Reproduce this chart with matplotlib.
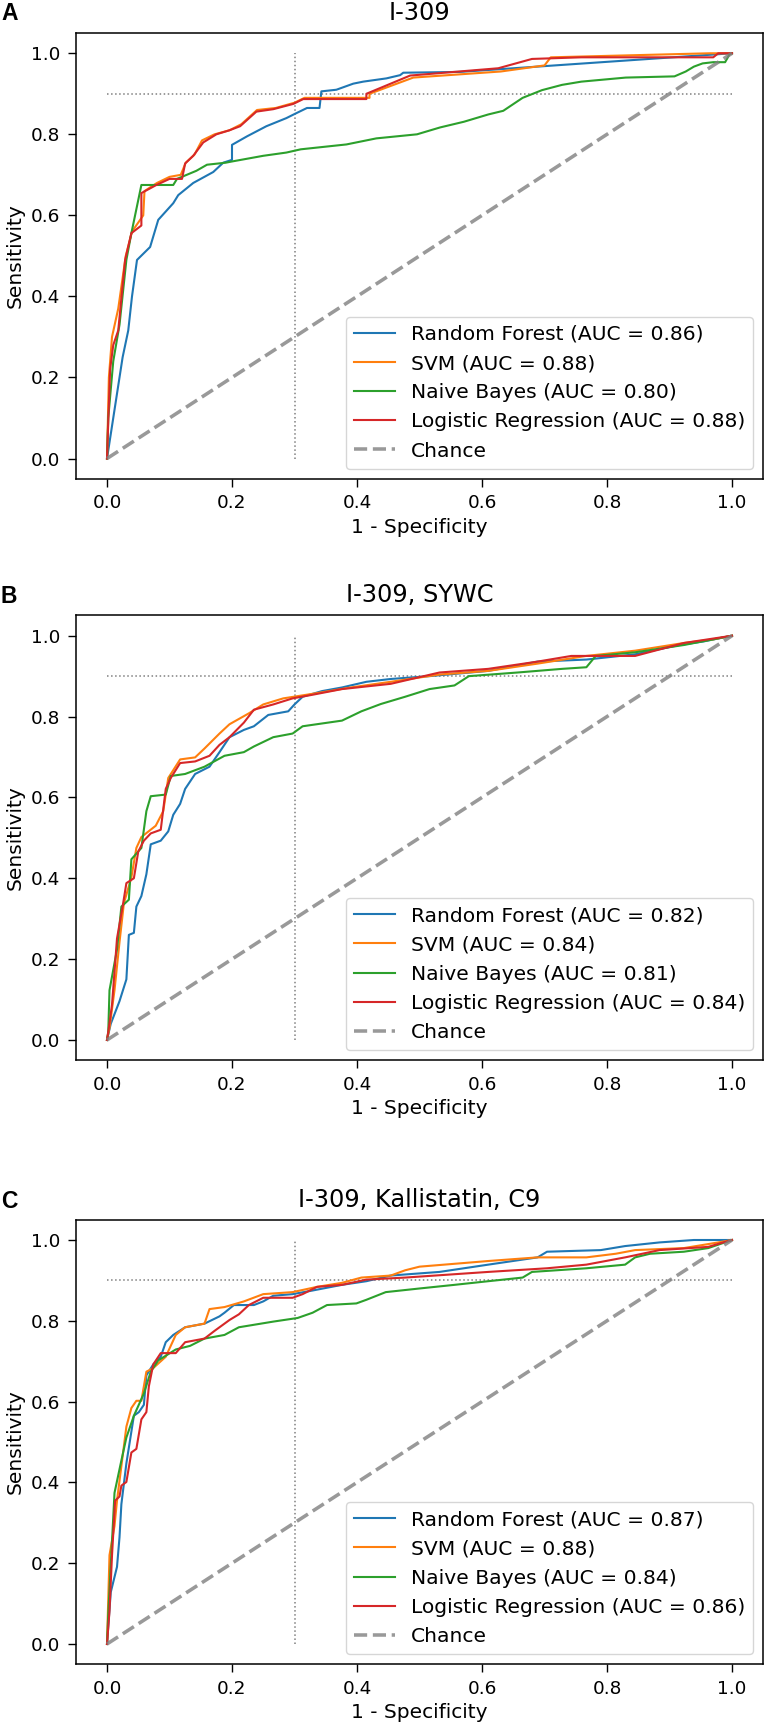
import matplotlib
matplotlib.use("Agg")
import matplotlib.pyplot as plt

# ---------------- data ----------------
panel_letters = ["A", "B", "C"]
panel_titles = ["I-309", "I-309, SYWC", "I-309, Kallistatin, C9"]
model_names = ["Random Forest", "SVM", "Naive Bayes", "Logistic Regression"]
auc_A = [0.86, 0.88, 0.80, 0.88]
auc_B = [0.82, 0.84, 0.81, 0.84]
auc_C = [0.87, 0.88, 0.84, 0.86]

# Panel A
rf_A_x = [0, 0.01, 0.025, 0.034, 0.04, 0.048, 0.069, 0.082, 0.106, 0.114, 0.138, 0.17, 0.186, 0.2, 0.2, 0.224, 0.255,
          0.287, 0.30, 0.32, 0.34, 0.343, 0.367, 0.394, 0.41, 0.447, 0.469, 0.474, 0.565, 1.0]
rf_A_y = [0, 0.1, 0.25, 0.316, 0.40, 0.49, 0.522, 0.589, 0.63, 0.65, 0.68, 0.707, 0.73, 0.737, 0.774, 0.795, 0.82,
          0.84, 0.85, 0.865, 0.865, 0.906, 0.91, 0.925, 0.93, 0.938, 0.946, 0.952, 0.954, 1.0]
svm_A_x = [0, 0.003, 0.008, 0.018, 0.03, 0.04, 0.058, 0.06, 0.08, 0.10, 0.118, 0.126, 0.14, 0.152, 0.172, 0.196,
           0.215, 0.24, 0.27, 0.30, 0.316, 0.42, 0.42, 0.49, 0.63, 0.70, 0.71, 0.965, 1.0]
svm_A_y = [0, 0.2, 0.3, 0.37, 0.5, 0.56, 0.6, 0.66, 0.68, 0.695, 0.70, 0.73, 0.75, 0.785, 0.80, 0.81,
           0.825, 0.86, 0.865, 0.878, 0.89, 0.89, 0.9, 0.94, 0.955, 0.97, 0.99, 1.0, 1.0]
nb_A_x = [0, 0.002, 0.01, 0.02, 0.031, 0.039, 0.053, 0.055, 0.106, 0.112, 0.143, 0.16, 0.19, 0.2, 0.25, 0.287, 0.31,
          0.383, 0.431, 0.496, 0.533, 0.571, 0.61, 0.634, 0.665, 0.696, 0.728, 0.759, 0.83, 0.908, 0.926, 0.939,
          0.953, 0.97, 0.989, 0.997, 1.0]
nb_A_y = [0, 0.1, 0.24, 0.33, 0.49, 0.556, 0.66, 0.675, 0.675, 0.69, 0.71, 0.725, 0.73, 0.733, 0.747, 0.755, 0.763,
          0.775, 0.79, 0.80, 0.817, 0.831, 0.849, 0.858, 0.89, 0.909, 0.922, 0.93, 0.94, 0.943, 0.955, 0.967,
          0.975, 0.978, 0.978, 1.0, 1.0]
lr_A_x = [0, 0.002, 0.005, 0.01, 0.018, 0.029, 0.039, 0.055, 0.055, 0.079, 0.10, 0.12, 0.125, 0.138, 0.154, 0.175,
          0.196, 0.213, 0.239, 0.266, 0.298, 0.314, 0.415, 0.415, 0.485, 0.626, 0.68, 0.759, 0.97, 0.978, 1.0]
lr_A_y = [0, 0.09, 0.22, 0.28, 0.316, 0.49, 0.556, 0.575, 0.655, 0.675, 0.69, 0.69, 0.728, 0.747, 0.78, 0.80,
          0.81, 0.82, 0.856, 0.862, 0.875, 0.887, 0.887, 0.9, 0.945, 0.963, 0.986, 0.99, 0.99, 1.0, 1.0]

# Panel B
rf_B_x = [0, 0.006, 0.02, 0.031, 0.035, 0.043, 0.047, 0.055, 0.063, 0.07, 0.086, 0.098, 0.106, 0.117, 0.125, 0.141,
          0.164, 0.18, 0.196, 0.219, 0.235, 0.258, 0.29, 0.30, 0.313, 0.344, 0.376, 0.415, 0.454, 0.516, 0.61,
          0.689, 0.767, 0.845, 0.916, 0.955, 1.0]
rf_B_y = [0, 0.04, 0.096, 0.15, 0.26, 0.265, 0.33, 0.356, 0.41, 0.484, 0.493, 0.516, 0.557, 0.584, 0.621, 0.658,
          0.676, 0.712, 0.749, 0.767, 0.776, 0.804, 0.813, 0.83, 0.849, 0.863, 0.872, 0.886, 0.893, 0.9, 0.913,
          0.936, 0.941, 0.954, 0.977, 0.986, 1.0]
svm_B_x = [0, 0.004, 0.012, 0.02, 0.027, 0.039, 0.047, 0.055, 0.078, 0.09, 0.098, 0.117, 0.141, 0.156, 0.18, 0.196,
           0.227, 0.25, 0.282, 0.336, 0.39, 0.454, 0.532, 0.61, 0.689, 0.767, 0.845, 0.923, 0.97, 1.0]
svm_B_y = [0, 0.03, 0.123, 0.242, 0.338, 0.402, 0.475, 0.502, 0.53, 0.566, 0.648, 0.694, 0.699, 0.721, 0.758, 0.781,
           0.808, 0.83, 0.845, 0.858, 0.872, 0.886, 0.904, 0.913, 0.931, 0.95, 0.963, 0.982, 0.991, 1.0]
nb_B_x = [0, 0.002, 0.004, 0.016, 0.023, 0.035, 0.039, 0.055, 0.063, 0.07, 0.094, 0.102, 0.125, 0.156, 0.188, 0.219,
          0.235, 0.266, 0.297, 0.313, 0.376, 0.407, 0.438, 0.477, 0.516, 0.556, 0.579, 0.657, 0.728, 0.767, 0.782,
          0.845, 0.923, 1.0]
nb_B_y = [0, 0.02, 0.123, 0.224, 0.33, 0.347, 0.447, 0.475, 0.566, 0.603, 0.607, 0.653, 0.658, 0.676, 0.703, 0.712,
          0.726, 0.749, 0.758, 0.776, 0.79, 0.813, 0.831, 0.849, 0.868, 0.877, 0.9, 0.909, 0.918, 0.922, 0.95,
          0.959, 0.977, 1.0]
lr_B_x = [0, 0.002, 0.008, 0.016, 0.025, 0.031, 0.043, 0.05, 0.059, 0.07, 0.086, 0.094, 0.102, 0.117, 0.141, 0.164,
          0.18, 0.196, 0.219, 0.235, 0.266, 0.297, 0.329, 0.376, 0.454, 0.532, 0.61, 0.689, 0.743, 0.845, 0.923, 1.0]
lr_B_y = [0, 0.02, 0.087, 0.251, 0.33, 0.388, 0.40, 0.466, 0.493, 0.511, 0.52, 0.621, 0.648, 0.685, 0.689, 0.703,
          0.73, 0.749, 0.785, 0.817, 0.83, 0.845, 0.854, 0.868, 0.881, 0.909, 0.918, 0.936, 0.95, 0.95, 0.982, 1.0]

# Panel C
rf_C_x = [0, 0.006, 0.016, 0.02, 0.023, 0.031, 0.043, 0.051, 0.059, 0.063, 0.074, 0.086, 0.094, 0.106, 0.125, 0.156,
          0.18, 0.188, 0.203, 0.235, 0.25, 0.266, 0.297, 0.329, 0.376, 0.415, 0.454, 0.532, 0.61, 0.689, 0.704,
          0.79, 0.829, 0.884, 0.939, 1.0]
rf_C_y = [0, 0.128, 0.191, 0.264, 0.346, 0.447, 0.565, 0.574, 0.592, 0.665, 0.692, 0.711, 0.747, 0.765, 0.784, 0.793,
          0.811, 0.82, 0.839, 0.839, 0.848, 0.862, 0.866, 0.875, 0.889, 0.898, 0.912, 0.921, 0.939, 0.957, 0.971,
          0.975, 0.985, 0.994, 1.0, 1.0]
svm_C_x = [0, 0.004, 0.012, 0.016, 0.031, 0.039, 0.047, 0.055, 0.063, 0.074, 0.094, 0.11, 0.125, 0.156, 0.164, 0.188,
           0.219, 0.25, 0.297, 0.336, 0.376, 0.407, 0.454, 0.477, 0.5, 0.571, 0.61, 0.689, 0.767, 0.814, 0.845,
           0.923, 0.978, 1.0]
svm_C_y = [0, 0.22, 0.292, 0.355, 0.538, 0.584, 0.602, 0.602, 0.674, 0.683, 0.711, 0.765, 0.784, 0.793, 0.829, 0.834,
           0.848, 0.866, 0.871, 0.884, 0.894, 0.907, 0.912, 0.925, 0.934, 0.943, 0.948, 0.957, 0.957, 0.966, 0.975,
           0.98, 0.994, 1.0]
nb_C_x = [0, 0.002, 0.012, 0.022, 0.031, 0.043, 0.059, 0.07, 0.082, 0.11, 0.133, 0.156, 0.188, 0.211, 0.266, 0.305,
          0.329, 0.352, 0.399, 0.415, 0.446, 0.5, 0.556, 0.61, 0.665, 0.68, 0.767, 0.829, 0.845, 0.869, 0.923,
          0.962, 1.0]
nb_C_y = [0, 0.073, 0.374, 0.447, 0.511, 0.565, 0.62, 0.674, 0.702, 0.729, 0.738, 0.756, 0.765, 0.784, 0.798, 0.807,
          0.82, 0.839, 0.843, 0.852, 0.871, 0.88, 0.889, 0.898, 0.907, 0.921, 0.93, 0.939, 0.957, 0.966, 0.971,
          0.98, 1.0]
lr_C_x = [0, 0.004, 0.008, 0.013, 0.02, 0.023, 0.031, 0.039, 0.047, 0.055, 0.063, 0.067, 0.074, 0.086, 0.11, 0.125,
          0.156, 0.172, 0.196, 0.211, 0.227, 0.25, 0.297, 0.313, 0.336, 0.376, 0.415, 0.477, 0.61, 0.704, 0.767,
          0.829, 0.884, 0.962, 0.986, 1.0]
lr_C_y = [0, 0.082, 0.219, 0.355, 0.365, 0.392, 0.401, 0.474, 0.483, 0.556, 0.574, 0.638, 0.692, 0.72, 0.72, 0.747,
          0.756, 0.775, 0.802, 0.816, 0.839, 0.857, 0.857, 0.866, 0.884, 0.889, 0.902, 0.907, 0.921, 0.93, 0.939,
          0.957, 0.975, 0.983, 0.994, 1.0]

curves = [
    [(rf_A_x, rf_A_y), (svm_A_x, svm_A_y), (nb_A_x, nb_A_y), (lr_A_x, lr_A_y)],
    [(rf_B_x, rf_B_y), (svm_B_x, svm_B_y), (nb_B_x, nb_B_y), (lr_B_x, lr_B_y)],
    [(rf_C_x, rf_C_y), (svm_C_x, svm_C_y), (nb_C_x, nb_C_y), (lr_C_x, lr_C_y)],
]
aucs = [auc_A, auc_B, auc_C]
colors = ["#1f77b4", "#ff7f0e", "#2ca02c", "#d62728"]

# ---------------- layout ----------------
W, H = 766, 1728
plt.rcParams["font.family"] = ["DejaVu Sans"]
fig = plt.figure(figsize=(W / 100, H / 100), dpi=100)

# axes boxes in pixels: (left, top, right, bottom)
boxes = [(75.75, 33.0, 763.25, 478.8), (75.75, 615.5, 763.25, 1060.2), (75.75, 1219.8, 763.25, 1664.2)]
letter_base = [20, 603, 1208]

for i in range(3):
    l, t, r, b = boxes[i]
    ax = fig.add_axes([l / W, 1 - b / H, (r - l) / W, (b - t) / H])
    ax.plot([0.3, 0.3], [0, 1], linestyle=":", color="gray", lw=1.1)
    ax.plot([0, 1], [0.9, 0.9], linestyle=":", color="gray", lw=1.1)
    for k in range(4):
        xs, ys = curves[i][k]
        ax.plot(xs, ys, color=colors[k], lw=1.5,
                label=f"{model_names[k]} (AUC = {aucs[i][k]:.2f})")
    ax.plot([0, 1], [0, 1], linestyle="--", lw=2.56, color="gray", alpha=0.8, label="Chance")
    ax.set_xlim(-0.05, 1.05)
    ax.set_ylim(-0.05, 1.05)
    ax.set_xticks([0, 0.2, 0.4, 0.6, 0.8, 1.0])
    ax.set_yticks([0, 0.2, 0.4, 0.6, 0.8, 1.0])
    ax.tick_params(labelsize=13.3, length=5.8, width=1.0, pad=5.5)
    for s in ax.spines.values():
        s.set_linewidth(1.1)
    ax.set_xlabel("1 - Specificity", fontsize=14.5, labelpad=4)
    ax.set_ylabel("Sensitivity", fontsize=14.5, labelpad=4)
    ax.set_title(panel_titles[i], fontsize=17.3, pad=9.4)
    ax.legend(loc="lower right", fontsize=14.6, handlelength=2.0)
    fig.text(1 / W, 1 - letter_base[i] / H, panel_letters[i], fontsize=16.5, fontweight="bold",
             family="Liberation Sans", ha="left", va="baseline")

fig.savefig("out.png", dpi=100)
